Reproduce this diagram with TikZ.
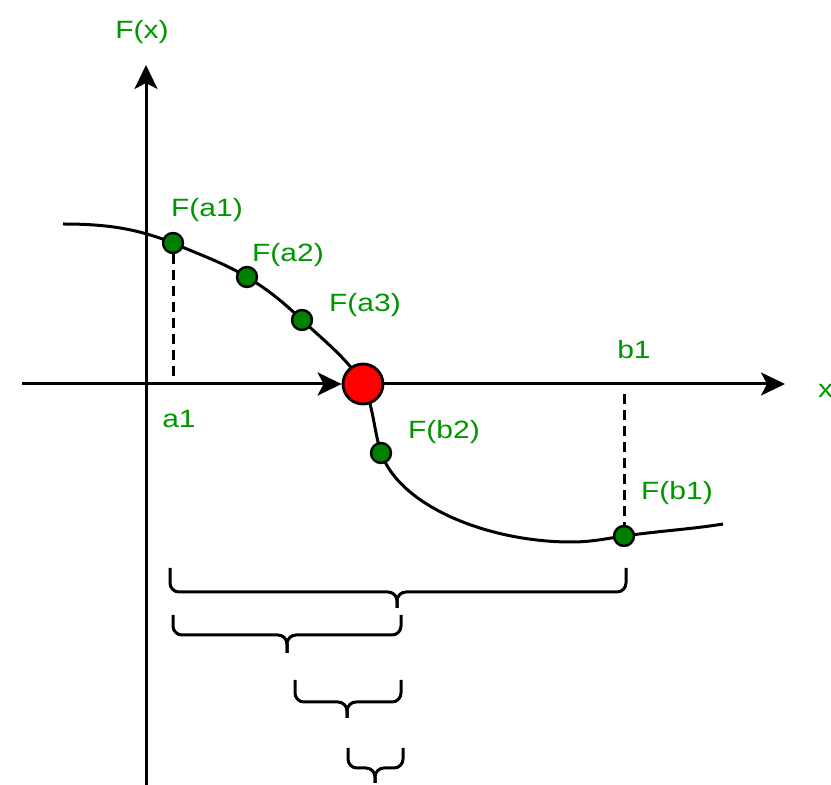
\documentclass[tikz,border=0pt]{standalone}
\usepackage{fontspec}
\newfontfamily\labfont[FakeStretch=1.2]{Liberation Sans}
\usetikzlibrary{arrows.meta}
\pgfdeclarelayer{bg}
\pgfsetlayers{bg,main}
\definecolor{labgreen}{RGB}{0,150,0}
\definecolor{dotgreen}{RGB}{0,128,0}
\definecolor{rootred}{RGB}{255,0,0}
\tikzset{
  axis/.style={line width=3pt, -{Stealth[length=24pt,width=23pt,inset=6pt]}},
  curve/.style={line width=3pt},
  guide/.style={line width=3pt, dash pattern=on 10pt off 6pt},
  dot/.style={circle, draw=black, fill=dotgreen, line width=2.4pt, minimum size=20pt, inner sep=0pt},
  root/.style={circle, draw=black, fill=rootred, line width=2.8pt, minimum size=40pt, inner sep=0pt},
  lab/.style={text=labgreen, font=\labfont\fontsize{25}{25}\selectfont, inner sep=0pt, anchor=base},
  bracestyle/.style={line width=3pt, rounded corners=9pt}
}
\newcommand\mybrace[6]{% x1, x2, xc, ytop, ytip, ymid
  \draw[bracestyle] (#1,#4) -- (#1,#6) -- (#3,#6) -- (#3,#5);
  \draw[bracestyle] (#2,#4) -- (#2,#6) -- (#3,#6) -- (#3,#5);
}
\begin{document}
\begin{tikzpicture}[x=1pt,y=1pt]
\useasboundingbox (0,0) rectangle (831,785);
% axes
\coordinate (ybot) at (146,0);
\coordinate (ytop) at (146,720);
\coordinate (xl) at (22,401);
\coordinate (xr) at (785,401);
\draw[axis] (ybot) -- (ytop);
% points of the curve
\coordinate (p0) at (63,561);
\coordinate (q4) at (571,243);
\coordinate (pend) at (723,261);
\node[root] (R) at (363,401) {};
\draw[axis] (xl) -- (R);
\draw[axis] (R) -- (xr);
\node[dot] (a1) at (173,542) {};
\node[dot] (a2) at (247,508) {};
\node[dot] (a3) at (302,465) {};
\node[dot] (b2) at (381,332) {};
\node[dot] (b1) at (624,249) {};
\begin{pgfonlayer}{bg}
\draw[curve] (p0) .. controls +(45,0) and +(-35,14) .. (a1.center)
  .. controls +(27,-12) and +(-25,15) .. (a2.center)
  .. controls +(23,-14) and +(-18,17) .. (a3.center)
  .. controls +(20,-19) and +(-15,25) .. (R.center)
  .. controls +(10,-20) and +(-7,22) .. (b2.center)
  .. controls +(20,-55) and +(-80,0) .. (q4)
  .. controls +(20,0) and +(-20,-3) .. (b1.center)
  .. controls +(35,5) and +(-30,-5) .. (pend);
\end{pgfonlayer}
% guides
\coordinate (a1x) at (173,401);
\coordinate (b1x) at (624,391);
\draw[guide] (a1) -- (a1x);
\draw[guide] (b1x) -- (b1);
% labels
\node[lab] (lFx) at (142,746) {F(x)};
\node[lab] (lFa1) at (207,568) {F(a1)};
\node[lab] (lFa2) at (288,523) {F(a2)};
\node[lab] (lFa3) at (365,473) {F(a3)};
\node[lab] (la1) at (179,357) {a1};
\node[lab] (lb1) at (634,426) {b1};
\node[lab] (lFb2) at (444,346) {F(b2)};
\node[lab] (lFb1) at (677,285) {F(b1)};
\node[lab, anchor=base west] (lx) at (818,387) {x};
% braces
\mybrace{170}{626}{397}{217}{177}{193}
\mybrace{173}{401}{287}{170}{132}{150}
\mybrace{295}{401}{347}{105}{67}{83}
\mybrace{348}{403}{375}{37}{2}{17}
\end{tikzpicture}
\end{document}
